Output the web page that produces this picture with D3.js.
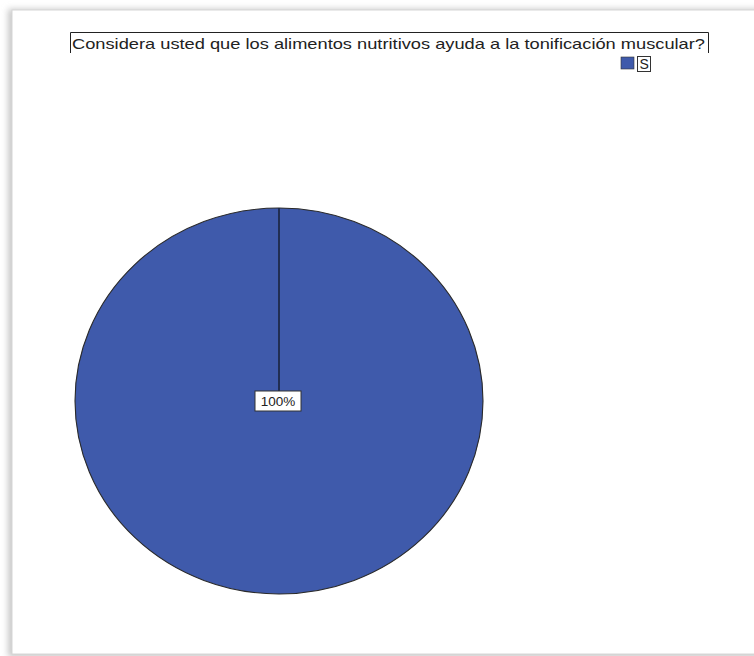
<!DOCTYPE html>
<html>
<head>
<meta charset="utf-8">
<script src="https://cdn.jsdelivr.net/npm/d3@7"></script>
<style>
  html, body { margin: 0; padding: 0; background: #ffffff; }
  svg { display: block; }
</style>
</head>
<body>
<svg id="chart" width="754" height="656"></svg>
<script>
// Survey answers and their share of responses
const categories = ["S"];
const values = [100];
const sliceLabels = ["100%"];
const colors = ["#3f5aab"];
const title = "Considera usted que los alimentos nutritivos ayuda a la tonificación muscular?";

const svg = d3.select("#chart");
const W = 754, H = 656;

// Panel frame with soft shadow on the left
const defs = svg.append("defs");
const f = defs.append("filter").attr("id", "soft").attr("x", "-50%").attr("y", "-50%").attr("width", "200%").attr("height", "200%");
f.append("feGaussianBlur").attr("stdDeviation", 3);
svg.append("rect").attr("x", 8).attr("y", 9).attr("width", 760).attr("height", 648)
  .attr("fill", "#c8c8c8").attr("filter", "url(#soft)");
svg.append("rect").attr("x", 12).attr("y", 10).attr("width", 760).attr("height", 644)
  .attr("fill", "#ffffff").attr("stroke", "#d6d6d6").attr("stroke-width", 1);

// Title with box
const titleG = svg.append("g");
const tText = titleG.append("text")
  .attr("x", 72).attr("y", 49)
  .attr("font-family", "Arial, 'Liberation Sans', sans-serif")
  .attr("font-size", 14.5)
  .attr("fill", "#222")
  .text(title);
const tw = tText.node().getComputedTextLength();
const targetW = 633;
tText.attr("textLength", targetW).attr("lengthAdjust", "spacingAndGlyphs");
titleG.append("path")
  .attr("d", `M70.5,53 V32.5 H${70.5 + targetW + 5} V53`)
  .attr("fill", "none").attr("stroke", "#222").attr("stroke-width", 1);

// Legend
const legend = svg.append("g").attr("transform", "translate(621,57)");
legend.selectAll("rect.sw").data(categories).enter().append("rect")
  .attr("class", "sw")
  .attr("x", 0).attr("y", (d, i) => i * 18)
  .attr("width", 13).attr("height", 12)
  .attr("fill", (d, i) => colors[i]).attr("stroke", "#333").attr("stroke-width", 0.6);
legend.selectAll("rect.lb").data(categories).enter().append("rect")
  .attr("class", "lb")
  .attr("x", 16.5).attr("y", (d, i) => i * 18 - 0.5)
  .attr("width", 13).attr("height", 15)
  .attr("fill", "#fff").attr("stroke", "#333").attr("stroke-width", 1);
legend.selectAll("text").data(categories).enter().append("text")
  .attr("x", 18.5).attr("y", (d, i) => i * 18 + 12)
  .attr("font-family", "Arial, 'Liberation Sans', sans-serif")
  .attr("font-size", 14).attr("fill", "#222")
  .text(d => d);

// Pie (drawn slightly wider than tall)
const cx = 279, cy = 401, ry = 193, rx = 204;
const pie = d3.pie().sort(null).value(d => d);
const arc = d3.arc().innerRadius(0).outerRadius(ry);
const pieG = svg.append("g").attr("transform", `translate(${cx},${cy}) scale(${rx / ry},1)`);
const arcs = pie(values);
pieG.selectAll("path.slice").data(arcs).enter().append("path")
  .attr("class", "slice")
  .attr("d", arc)
  .attr("fill", (d, i) => colors[i])
  .attr("stroke", "#2a2a2a").attr("stroke-width", 1.1)
  .attr("vector-effect", "non-scaling-stroke");
// Slice boundary from the center to the start angle
pieG.selectAll("line.edge").data(arcs).enter().append("line")
  .attr("class", "edge")
  .attr("x1", 0).attr("y1", 0)
  .attr("x2", d => ry * Math.sin(d.startAngle))
  .attr("y2", d => -ry * Math.cos(d.startAngle))
  .attr("stroke", "#1e2a4a").attr("stroke-width", 1.8)
  .attr("vector-effect", "non-scaling-stroke");

// Percentage label in a box at the pie center
const lab = svg.append("g").attr("transform", `translate(${cx - 1},${cy})`);
lab.append("rect").attr("x", -23).attr("y", -10).attr("width", 46).attr("height", 20)
  .attr("fill", "#fff").attr("stroke", "#333").attr("stroke-width", 1);
lab.append("text").attr("x", 0).attr("y", 5)
  .attr("text-anchor", "middle")
  .attr("font-family", "Arial, 'Liberation Sans', sans-serif")
  .attr("font-size", 13.5).attr("fill", "#222")
  .text(sliceLabels[0]);
</script>
</body>
</html>
